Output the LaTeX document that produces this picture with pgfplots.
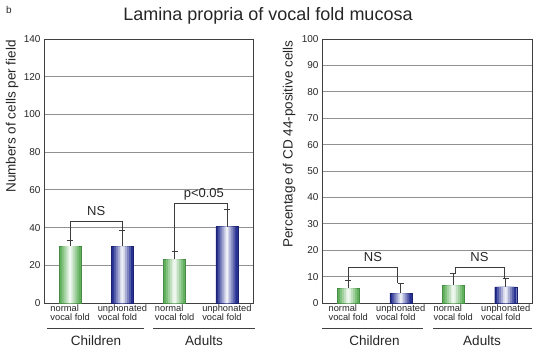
\documentclass[border=0pt]{standalone}
\usepackage{fontspec}
\setmainfont{Liberation Sans}
\usepackage{pgfplots}
\pgfplotsset{compat=1.18}
\definecolor{gE}{RGB}{96,176,92}
\definecolor{gOut}{RGB}{70,140,70}
\definecolor{bE}{RGB}{40,50,148}
\definecolor{bOut}{RGB}{28,34,110}
\definecolor{gridc}{RGB}{145,145,145}
\definecolor{errc}{RGB}{60,60,60}
\pgfplotsset{
  myaxis/.style={
    scale only axis,
    anchor=south west,
    height=264pt,
    xmin=-0.5, xmax=3.5,
    ymin=0,
    xtick={0,1,2,3},
    xticklabels={{normal\\vocal fold},{unphonated\\vocal fold},{normal\\vocal fold},{unphonated\\vocal fold}},
    xticklabel style={align=left, font=\fontsize{9.3}{9}\selectfont, text=black!85, inner sep=1pt, yshift=-1pt},
    major x tick style={draw=none},
    ytick style={draw=none},
    yticklabel style={font=\fontsize{10}{10}\selectfont, text=black!85},
    /pgf/number format/assume math mode=true,
    ymajorgrids,
    grid style={draw=gridc, line width=0.9pt},
    axis line style={draw=black!75, line width=0.7pt},
    ylabel style={font=\fontsize{13.5}{14}\selectfont, text=black!85, anchor=east, rotate=0},
  },
  errs/.style={draw=none, forget plot,
    error bars/.cd, y dir=plus, y explicit,
    error bar style={draw=errc, line width=0.7pt},
    error mark options={rotate=90, mark size=3pt, line width=0.7pt, draw=errc}},
  outer/.style 2 args={ybar, bar shift=0pt, bar width=22pt, fill=#1, draw=#2, line width=0.4pt},
  lay/.style 2 args={ybar, bar shift=0pt, bar width=#1, fill=#2, draw=none, forget plot},
}
\begin{document}
\begin{tikzpicture}
\useasboundingbox (0,0) rectangle (542pt,-356pt);
\node[font=\fontsize{18}{18}\selectfont, text=black!85] at (268pt,-16pt) {Lamina propria of vocal fold mucosa};
\node[font=\fontsize{10}{10}\selectfont, text=black!85] at (9pt,-10pt) {b};

% Left panel
\begin{axis}[myaxis, at={(44pt,-303pt)}, width=209pt,
  ymax=140, ytick={0,20,...,140},
  ylabel={Numbers of cells per field},
  ylabel style={at={(axis description cs:-0.153,1.008)}}]
\addplot[outer={gE}{gOut}] coordinates {(0,30.2) (2,23.2)};
\addplot[lay={17pt}{gE!80!white}] coordinates {(0,30.2) (2,23.2)};
\addplot[lay={13pt}{gE!60!white}] coordinates {(0,30.2) (2,23.2)};
\addplot[lay={9pt}{gE!40!white}] coordinates {(0,30.2) (2,23.2)};
\addplot[lay={5pt}{gE!20!white}] coordinates {(0,30.2) (2,23.2)};
\addplot[lay={2pt}{gE!8!white}] coordinates {(0,30.2) (2,23.2)};
\addplot[outer={bE}{bOut}] coordinates {(1,30.0) (3,40.5)};
\addplot[lay={17pt}{bE!80!white}] coordinates {(1,30.0) (3,40.5)};
\addplot[lay={13pt}{bE!60!white}] coordinates {(1,30.0) (3,40.5)};
\addplot[lay={9pt}{bE!40!white}] coordinates {(1,30.0) (3,40.5)};
\addplot[lay={5pt}{bE!20!white}] coordinates {(1,30.0) (3,40.5)};
\addplot[lay={2pt}{bE!8!white}] coordinates {(1,30.0) (3,40.5)};
\addplot[errs] coordinates {(0,30.2) +- (0,2.8) (1,30.0) +- (0,8.7) (2,23.2) +- (0,4.4) (3,40.5) +- (0,9.2)};
\draw[errc, line width=0.6pt] (axis cs:0,33.0) -- (axis cs:0,43.1) -- (axis cs:1,43.1) -- (axis cs:1,38.7);
\node[font=\fontsize{13}{13}\selectfont, text=black!85] at (axis cs:0.5,48.6) {NS};
\draw[errc, line width=0.6pt] (axis cs:2,27.6) -- (axis cs:2,52.8) -- (axis cs:3,52.8) -- (axis cs:3,49.7);
\node[font=\fontsize{13}{13}\selectfont, text=black!85] at (axis cs:2.56,57.8) {p<0.05};
\end{axis}

% Right panel
\begin{axis}[myaxis, at={(322pt,-303pt)}, width=210pt,
  ymax=100, ytick={0,10,...,100},
  ylabel={Percentage of CD 44-positive cells},
  ylabel style={at={(axis description cs:-0.157,1.008)}}]
\addplot[outer={gE}{gOut}] coordinates {(0,5.5) (2,6.7)};
\addplot[lay={17pt}{gE!80!white}] coordinates {(0,5.5) (2,6.7)};
\addplot[lay={13pt}{gE!60!white}] coordinates {(0,5.5) (2,6.7)};
\addplot[lay={9pt}{gE!40!white}] coordinates {(0,5.5) (2,6.7)};
\addplot[lay={5pt}{gE!20!white}] coordinates {(0,5.5) (2,6.7)};
\addplot[lay={2pt}{gE!8!white}] coordinates {(0,5.5) (2,6.7)};
\addplot[outer={bE}{bOut}] coordinates {(1,3.6) (3,6.1)};
\addplot[lay={17pt}{bE!80!white}] coordinates {(1,3.6) (3,6.1)};
\addplot[lay={13pt}{bE!60!white}] coordinates {(1,3.6) (3,6.1)};
\addplot[lay={9pt}{bE!40!white}] coordinates {(1,3.6) (3,6.1)};
\addplot[lay={5pt}{bE!20!white}] coordinates {(1,3.6) (3,6.1)};
\addplot[lay={2pt}{bE!8!white}] coordinates {(1,3.6) (3,6.1)};
\addplot[errs] coordinates {(0,5.5) +- (0,3.1) (1,3.6) +- (0,4.0) (2,6.7) +- (0,4.4) (3,6.1) +- (0,3.1)};
\draw[errc, line width=0.6pt] (axis cs:0,8.6) -- (axis cs:0,13.7) -- (axis cs:0.93,13.7) -- (axis cs:0.93,7.6);
\node[font=\fontsize{13}{13}\selectfont, text=black!85] at (axis cs:0.47,17.6) {NS};
\draw[errc, line width=0.6pt] (axis cs:2.03,11.1) -- (axis cs:2.03,13.7) -- (axis cs:2.97,13.7) -- (axis cs:2.97,9.2);
\node[font=\fontsize{13}{13}\selectfont, text=black!85] at (axis cs:2.5,17.6) {NS};
\end{axis}

% Group lines and labels
\draw[black!75, line width=0.7pt] (47pt,-328pt) -- (144pt,-328pt);
\draw[black!75, line width=0.7pt] (153pt,-328pt) -- (255pt,-328pt);
\draw[black!75, line width=0.7pt] (322pt,-328pt) -- (423pt,-328pt);
\draw[black!75, line width=0.7pt] (433pt,-328pt) -- (532pt,-328pt);
\node[font=\fontsize{13.5}{14}\selectfont, text=black!85] at (96pt,-341pt) {Children};
\node[font=\fontsize{13.5}{14}\selectfont, text=black!85] at (204pt,-341pt) {Adults};
\node[font=\fontsize{13.5}{14}\selectfont, text=black!85] at (374.5pt,-341pt) {Children};
\node[font=\fontsize{13.5}{14}\selectfont, text=black!85] at (482pt,-341pt) {Adults};
\end{tikzpicture}
\end{document}
